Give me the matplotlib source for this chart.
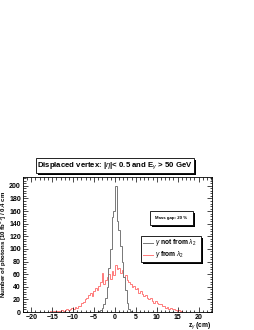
import matplotlib
matplotlib.use("Agg")
import matplotlib.pyplot as plt
from matplotlib.patches import Rectangle
from matplotlib.ticker import MultipleLocator
import numpy as np

plt.rcParams['font.family'] = ['Liberation Sans', 'DejaVu Sans']
plt.rcParams['mathtext.fontset'] = 'custom'
plt.rcParams['mathtext.rm'] = 'Liberation Sans'
plt.rcParams['mathtext.it'] = 'Liberation Sans:italic'
plt.rcParams['mathtext.bf'] = 'Liberation Sans:bold'

# histogram binning (0.4 cm bins)
hist_lo, hist_hi, n_bins = -22.0, 22.0, 110

# gamma not from lambda_2, bins starting at -4.0 cm
gray_start = -4.0
gray_counts = [1, 3, 6, 12, 22, 40, 70, 100, 150, 160,
               200, 145, 130, 105, 80, 55, 35, 15, 5, 2]

# gamma from lambda_2, bins starting at -16.0 cm
red_start = -16.0
red_counts = [0, 1, 0, 1, 1, 2, 1, 2, 3, 2,
              3, 4, 3, 5, 6, 5, 8, 7, 10, 9,
              14, 16, 20, 22, 27, 30, 25, 33, 38, 35,
              42, 48, 62, 45, 50, 55, 60, 52, 65, 58,
              75, 68, 70, 62, 66, 55, 58, 50, 48, 45,
              40, 42, 36, 38, 30, 33, 28, 25, 27, 22,
              20, 23, 18, 15, 17, 14, 12, 13, 10, 9,
              7, 8, 5, 6, 4, 5, 3, 2, 3, 1]

title_text = r"Displaced vertex: |$\eta$|< 0.5 and E$_{\gamma}$ > 50 GeV"
gap_text = "Mass gap: 20 %"
legend_labels = [r"$\gamma$ not from $\lambda_{2}$", r"$\gamma$ from $\lambda_{2}$"]


def fill_bins(start, counts):
    edges = np.linspace(hist_lo, hist_hi, n_bins + 1)
    vals = np.zeros(n_bins)
    i0 = int(round((start - hist_lo) / 0.4))
    vals[i0:i0 + len(counts)] = counts
    return edges, vals


def shadow_box(fig, x0, y0, w, h, off=0.008):
    fig.patches.append(Rectangle((x0 + off, y0 - off * 255 / 330), w, h, transform=fig.transFigure,
                                 facecolor='black', edgecolor='none', zorder=5))
    fig.patches.append(Rectangle((x0, y0), w, h, transform=fig.transFigure,
                                 facecolor='white', edgecolor='black', lw=0.6, zorder=6))


fig = plt.figure(figsize=(2.55, 3.3), dpi=100)
ax = fig.add_axes([0.090, 0.0545, 0.741, 0.409])

edges, gray_vals = fill_bins(gray_start, gray_counts)
_, red_vals = fill_bins(red_start, red_counts)
ax.stairs(red_vals, edges, color='#ff7a7a', lw=0.7)
ax.stairs(gray_vals, edges, color='#777777', lw=0.7)

ax.set_xlim(-22, 23.2)
ax.set_ylim(0, 214)
ax.xaxis.set_major_locator(MultipleLocator(5))
ax.xaxis.set_minor_locator(MultipleLocator(1))
ax.yaxis.set_major_locator(MultipleLocator(20))
ax.yaxis.set_minor_locator(MultipleLocator(4))
ax.tick_params(which='both', direction='in', top=True, right=True, width=0.5,
               labelsize=5, pad=1.5)
ax.tick_params(which='major', length=3.5)
ax.tick_params(which='minor', length=1.8)
for lab in ax.get_xticklabels() + ax.get_yticklabels():
    lab.set_fontweight('bold')
for s in ax.spines.values():
    s.set_linewidth(0.6)

ax.set_ylabel("Number of photons [10 fb$^{-1}$] / 0.4 cm", fontsize=4.4, fontweight='bold')
ax.yaxis.set_label_coords(-0.075, 0.5)
fig.text(0.828, 1 - 325.5 / 330, r"z$_{\gamma}$ (cm)", fontsize=4.8, fontweight='bold',
         ha='right', va='center')

# title box
shadow_box(fig, 36 / 255, 1 - 173 / 330, 158 / 255, 15 / 330)
fig.text(115 / 255, 1 - 165.5 / 330, title_text, fontsize=5.6, fontweight='bold',
         ha='center', va='center', zorder=7)

# mass gap box
shadow_box(fig, 150 / 255, 1 - 225 / 330, 43 / 255, 14 / 330, off=0.006)
fig.text(171.5 / 255, 1 - 218 / 330, gap_text, fontsize=3.2, fontweight='bold',
         ha='center', va='center', zorder=7)

# legend box
shadow_box(fig, 141 / 255, 1 - 262 / 330, 60 / 255, 26 / 330, off=0.006)
leg_colors = ['#777777', '#ff7a7a']
for k, (lab, col) in enumerate(zip(legend_labels, leg_colors)):
    yy = 1 - (242.5 + 12 * k) / 330
    fig.lines.append(plt.Line2D([143 / 255, 153 / 255], [yy, yy], transform=fig.transFigure,
                                color=col, lw=0.7, zorder=7))
    fig.text(155 / 255, yy, lab, fontsize=4.8, fontweight='bold', ha='left', va='center', zorder=7)

fig.savefig("out.png", dpi=100)
